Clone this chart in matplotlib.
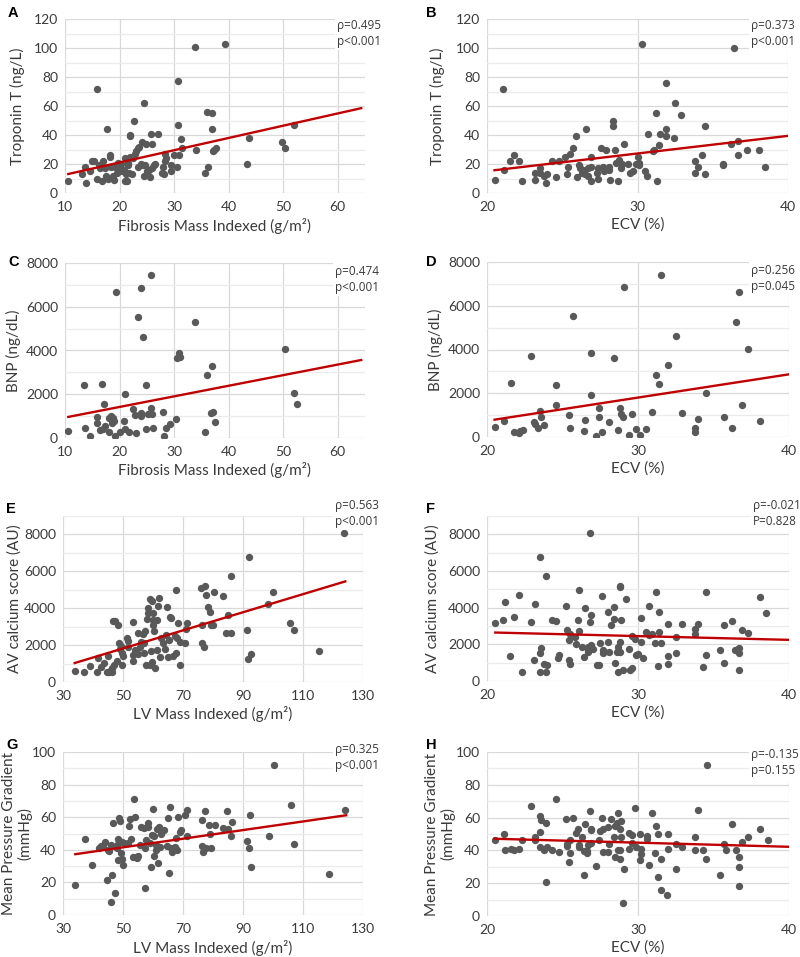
import matplotlib
matplotlib.use("Agg")
import matplotlib.pyplot as plt
import numpy as np

plt.rcParams['font.family'] = ['Lato', 'DejaVu Sans']

# A: Fibrosis mass indexed vs Troponin T
fib_a = [10.6, 13.2, 13.8, 13.7, 14.5, 14.9, 15.3, 15.8, 15.9, 16.2, 16.5, 16.8, 17.0, 17.3, 17.6,
         17.8, 17.7, 18.2, 18.3, 18.5, 18.8, 19.0, 19.2, 19.5, 19.8, 20.0, 20.3, 20.5, 20.8, 21.0,
         21.0, 21.2, 21.3, 21.5, 21.6, 21.7, 21.9, 22.0, 22.0, 22.2, 22.5, 22.6, 22.9, 23.1, 23.3,
         23.4, 23.6, 23.9, 24.1, 24.3, 24.4, 24.5, 24.7, 24.9, 25.1, 25.4, 25.6, 25.8, 26.0, 26.0,
         26.3, 26.5, 27.0, 27.7, 27.9, 28.1, 28.3, 28.4, 28.5, 29.4, 29.5, 29.9, 30.5, 30.7, 30.8,
         30.9, 31.3, 31.4, 33.9, 34.1, 35.7, 36.0, 36.2, 36.9, 37.0, 37.2, 37.4, 37.6, 39.3, 43.4,
         43.8, 49.7, 50.4, 52.0]
trop_a = [8, 13, 7, 18, 15, 22, 22, 10, 72, 19, 17, 8, 22, 17, 12,
          10, 44, 25, 26, 18, 12, 9, 18, 14, 21, 17, 20, 15, 16, 24,
          8, 13, 8, 19, 21, 14, 40, 39, 25, 13, 24, 50, 27, 29, 31,
          18, 32, 20, 35, 19, 12, 62, 19, 34, 15, 16, 11, 41, 17, 34,
          19, 20, 41, 14, 18, 13, 22, 27, 24, 19, 15, 26, 18, 47, 77,
          26, 37, 31, 101, 30, 14, 56, 18, 55, 44, 29, 30, 31, 103, 20,
          38, 35, 31, 47]
fit_a_x = [10.6, 64.3]
fit_a_y = [13.1, 58.5]

# B: ECV vs Troponin T
ecv_b = [20.55, 21.06, 21.15, 21.5, 21.8, 22.1, 22.3, 23.2, 23.2, 23.5, 23.5, 23.8, 23.9, 24.0,
         24.3, 24.6, 24.8, 25.2, 25.3, 25.4, 25.5, 25.7, 25.9, 26.0, 26.1, 26.2, 26.3, 26.4, 26.5,
         26.6, 26.7, 26.7, 26.9, 26.9, 26.9, 27.3, 27.4, 27.4, 27.6, 27.7, 27.8, 27.9, 28.1, 28.1,
         28.2, 28.4, 28.4, 28.5, 28.6, 28.7, 28.8, 28.9, 29.0, 29.1, 29.4, 29.5, 29.7, 29.9, 30.0,
         30.1, 30.1, 30.3, 30.5, 30.6, 30.7, 31.0, 31.2, 31.1, 31.3, 31.4, 31.5, 31.9, 31.9, 31.9,
         32.4, 32.5, 32.9, 33.8, 33.8, 34.0, 34.3, 34.5, 34.5, 35.7, 35.7, 36.2, 36.4, 36.7, 36.7,
         37.3, 38.1, 38.5]
trop_b = [9, 72, 16, 22, 26, 22, 8, 9, 14, 17, 14, 12, 7, 13,
          22, 11, 22, 25, 13, 18, 27, 31, 39, 11, 19, 17, 14, 16, 13,
          44, 17, 12, 18, 25, 8, 14, 17, 10, 31, 18, 15, 30, 18, 16,
          9, 50, 46, 30, 21, 8, 23, 17, 20, 34, 20, 14, 15, 20, 25,
          21, 19, 103, 15, 12, 41, 29, 55, 30, 8, 33, 41, 76, 39, 44,
          38, 62, 54, 22, 14, 18, 26, 13, 46, 20, 19, 34, 100, 36, 26,
          30, 30, 18]
fit_b_x = [20.5, 40]
fit_b_y = [15.7, 39.4]

# C: Fibrosis mass indexed vs BNP
fib_c = [10.6, 13.5, 13.7, 14.6, 15.9, 15.9, 16.5, 16.8, 16.9, 17.2, 17.4, 18.0, 18.0, 18.4, 18.6,
         18.8, 18.9, 19.1, 19.3, 20.1, 20.8, 21.0, 21.0, 21.8, 22.5, 22.8, 23.1, 23.4, 24.0, 24.0,
         24.0, 24.3, 24.8, 24.8, 25.3, 25.7, 25.8, 26.0, 26.2, 27.9, 28.1, 28.5, 29.3, 30.4, 30.5,
         30.9, 31.1, 33.8, 35.7, 36.0, 36.7, 37.0, 37.2, 37.5, 50.3, 51.9, 52.6]
bnp_c = [337, 2417, 459, 92, 948, 704, 367, 2479, 428, 1545, 535, 933, 275, 994, 688,
         918, 765, 92, 6655, 275, 780, 1989, 398, 275, 1331, 1071, 214, 5523, 1010, 1148,
         6870, 4620, 2433, 428, 1086, 1377, 7436, 1086, 459, 1193, 92, 459, 627, 872, 3672,
         3871, 3718, 5309, 260, 2861, 1148, 3290, 1178, 734, 4055, 2050, 1545]
fit_c_x = [10.6, 64.3]
fit_c_y = [964, 3565]

# D: ECV vs BNP
ecv_d = [20.5, 21.1, 21.6, 21.8, 22.1, 22.2, 22.4, 22.9, 23.1, 23.2, 23.4, 23.5, 23.6, 23.8, 24.6,
         24.6, 25.4, 25.5, 25.7, 26.4, 26.5, 26.9, 26.9, 27.2, 27.4, 27.4, 27.6, 28.1, 28.4, 28.7,
         28.8, 28.9, 29.0, 29.1, 29.4, 29.6, 29.9, 30.1, 30.5, 30.9, 31.2, 31.4, 31.5, 32.0, 32.5,
         32.9, 33.8, 33.8, 34.0, 34.5, 35.7, 36.2, 36.5, 36.7, 36.9, 37.3, 38.1]
bnp_d = [472, 716, 2469, 229, 198, 274, 335, 3688, 701, 610, 427, 1173, 930, 564, 2393,
         1478, 1021, 411, 5547, 274, 762, 1935, 3825, 30, 1341, 930, 213, 686, 3612, 335,
         1326, 1051, 930, 6843, 76, 1051, 351, 76, 366, 1128, 2850, 2408, 7407, 3277, 4602,
         1097, 411, 229, 823, 1996, 899, 427, 5258, 6629, 1478, 4008, 716]
fit_d_x = [20.5, 40]
fit_d_y = [792, 2865]

# E: LV mass indexed vs AV calcium score
lvm_e = [33.9, 37.0, 39.1, 41.4, 41.8, 42.6, 43.8, 44.7, 45.1, 45.4, 46.0, 46.2, 46.4, 46.7, 47.1,
         47.4, 48.0, 48.4, 48.7, 49.0, 49.4, 49.6, 49.8, 49.9, 51.2, 51.6, 51.8, 53.2, 53.3, 53.3,
         53.9, 54.4, 55.0, 55.0, 55.6, 56.1, 56.7, 56.9, 57.0, 57.4, 57.8, 57.9, 58.3, 58.4, 58.9,
         59.1, 59.4, 59.7, 59.8, 60.0, 60.1, 60.1, 60.3, 60.7, 61.2, 61.4, 61.6, 61.9, 62.2, 62.7,
         63.3, 63.9, 64.2, 64.7, 65.1, 65.4, 65.6, 66.1, 66.7, 67.3, 67.6, 67.7, 68.0, 68.3, 68.9,
         69.0, 70.6, 71.1, 71.4, 76.2, 76.2, 75.9, 77.0, 77.4, 77.6, 78.3, 79.0, 79.4, 80.4, 80.0,
         83.3, 84.4, 85.0, 86.0, 86.0, 91.2, 91.8, 91.9, 92.7, 98.3, 100.0, 105.8, 106.9, 115.3,
         123.8]
cac_e = [578, 524, 885, 524, 1282, 831, 1029, 524, 1409, 524, 632, 740, 524, 3323, 903,
         3323, 1120, 3088, 2131, 1770, 1950, 939, 1589, 1427, 2384, 2221, 1878, 1120, 3269, 1463,
         1716, 1607, 2673, 1499, 1878, 2149, 2583, 1589, 2131, 2745, 903, 3413, 4027, 3756, 939,
         4515, 1680, 1066, 4370, 3106, 3756, 3341, 2745, 758, 3341, 1752, 4099, 4569, 1355, 2384,
         2113, 1770, 2565, 4063, 1337, 2257, 3540, 3468, 1391, 2510, 5003, 1571, 2384, 3197, 939,
         2167, 2131, 2871, 3197, 3106, 2113, 5093, 1896, 5183, 4732, 4063, 3775, 3106, 4858, 3106,
         4660, 2637, 3630, 2637, 5743, 2799, 1246, 6773, 1535, 4226, 4894, 3215, 2817, 1698,
         8091]
fit_e_x = [33.9, 124.1]
fit_e_y = [1029, 5454]

# F: ECV vs AV calcium score
ecv_f = [20.55, 21.06, 21.2, 21.5, 21.8, 22.1, 22.3, 22.9, 23.1, 23.2, 23.5, 23.5, 23.6, 23.5, 23.8,
         23.9, 23.9, 24.0, 24.3, 24.6, 24.7, 24.8, 25.2, 25.3, 25.4, 25.4, 25.5, 25.5, 25.8, 25.9,
         26.0, 26.1, 26.1, 26.4, 26.3, 26.5, 26.7, 26.7, 26.7, 26.8, 26.8, 26.9, 26.9, 27.0, 27.3,
         27.4, 27.5, 27.6, 27.7, 27.7, 28.0, 28.0, 28.1, 28.2, 28.4, 28.4, 28.5, 28.6, 28.7, 28.7,
         28.8, 28.8, 28.8, 28.8, 28.9, 29.0, 29.2, 29.4, 29.5, 29.6, 29.6, 29.8, 29.9, 30.0, 30.2,
         30.2, 30.3, 30.5, 30.7, 30.7, 30.9, 31.1, 31.2, 31.3, 31.4, 31.4, 31.5, 32.0, 32.0, 32.0,
         32.5, 32.5, 32.9, 33.8, 33.8, 34.0, 34.3, 34.5, 34.5, 35.4, 35.7, 35.7, 36.2, 36.4, 36.6,
         36.7, 36.7, 36.7, 36.9, 37.3, 38.1, 38.5]
cac_f = [3168, 3349, 4326, 1339, 3511, 4706, 507, 3222, 1122, 4199, 1539, 6769, 1792, 507, 941,
         507, 5738, 851, 3349, 3258, 1249, 1430, 4073, 2787, 2263, 1140, 941, 2570, 2389, 2027,
         3330, 4978, 2751, 1303, 1846, 3964, 1846, 1575, 1720, 8091, 3204, 3620, 1937, 1756, 851,
         887, 2082, 4652, 1539, 1665, 2154, 3783, 1575, 3077, 3385, 4036, 996, 1557, 507, 1846,
         5177, 5104, 2136, 1557, 3330, 579, 4489, 1756, 579, 724, 2444, 2281, 1394, 1448, 3457,
         2118, 1231, 2697, 4091, 2516, 2588, 2082, 4851, 796, 3765, 2661, 2082, 3095, 1376, 941,
         1502, 2389, 3095, 2860, 2570, 3095, 778, 1430, 4869, 1665, 996, 3077, 3294, 1683, 1756,
         1502, 1810, 579, 2769, 2643, 4579, 3711]
fit_f_x = [20.55, 40]
fit_f_y = [2643, 2244]

# G: LV mass indexed vs mean pressure gradient
lvm_g = [34.1, 37.3, 39.6, 41.9, 42.6, 43.3, 44.0, 44.7, 45.1, 45.3, 45.9, 46.1, 46.2, 46.8, 47.2,
         47.9, 48.1, 48.3, 48.4, 48.7, 48.9, 49.4, 49.7, 49.8, 49.9, 50.4, 51.7, 52.0, 52.3, 52.6,
         53.2, 53.8, 53.9, 54.3, 54.8, 55.0, 55.6, 56.1, 56.9, 57.2, 57.4, 57.8, 58.2, 58.4, 59.0,
         59.4, 59.7, 60.0, 60.2, 60.4, 60.9, 61.1, 61.3, 61.6, 61.8, 62.0, 62.2, 62.7, 63.8, 64.8,
         65.0, 65.3, 65.8, 66.1, 66.3, 67.4, 67.7, 68.1, 68.4, 69.0, 69.4, 70.7, 71.4, 71.2, 76.2,
         76.4, 76.8, 77.3, 77.8, 78.6, 79.0, 79.4, 80.6, 83.4, 84.6, 85.0, 86.0, 86.3, 91.2, 92.0,
         92.2, 92.8, 98.7, 100.2, 105.9, 106.9, 118.8, 124.0]
mpg_g = [18.4, 46.5, 30.4, 41.0, 42.4, 42.4, 44.5, 21.2, 40.0, 39.0, 42.7, 8.2, 24.5, 56.3, 13.5,
         42.7, 40.8, 33.5, 46.5, 59.8, 57.8, 37.8, 34.1, 44.7, 30.8, 43.9, 43.9, 54.3, 58.6, 46.9,
         35.3, 71.4, 60.2, 35.7, 35.1, 36.3, 43.1, 54.1, 53.3, 16.3, 40.8, 46.1, 54.1, 56.3, 43.9,
         29.6, 49.0, 65.3, 48.4, 36.3, 43.1, 39.8, 52.9, 41.8, 31.6, 53.7, 41.8, 50.0, 52.0, 42.4,
         59.6, 25.5, 66.3, 40.8, 38.8, 41.6, 47.3, 39.8, 60.4, 51.0, 52.0, 61.2, 64.3, 48.4, 58.4,
         42.2, 38.6, 63.5, 41.4, 55.3, 50.0, 40.8, 55.3, 53.3, 63.7, 52.7, 48.4, 57.1, 45.1, 41.4,
         61.2, 29.6, 48.4, 92.2, 67.3, 43.5, 25.3, 64.3]
fit_g_x = [34.1, 124.4]
fit_g_y = [37.3, 61.2]

# H: ECV vs mean pressure gradient
ecv_h = [20.5, 21.1, 21.2, 21.6, 21.8, 22.1, 22.3, 22.9, 23.2, 23.2, 23.5, 23.5, 23.5, 23.6, 23.8,
         23.9, 23.9, 24.0, 24.3, 24.6, 24.8, 25.2, 25.3, 25.3, 25.4, 25.5, 25.5, 25.7, 25.9, 26.0,
         26.1, 26.1, 26.3, 26.4, 26.4, 26.5, 26.6, 26.6, 26.7, 26.8, 26.9, 26.9, 26.9, 27.2, 27.4,
         27.5, 27.6, 27.7, 27.7, 28.0, 28.0, 28.1, 28.2, 28.4, 28.5, 28.5, 28.6, 28.7, 28.7, 28.8,
         28.8, 28.9, 28.9, 28.8, 29.0, 29.1, 29.4, 29.4, 29.6, 29.6, 29.8, 29.9, 30.1, 30.1, 30.2,
         30.2, 30.6, 30.6, 30.7, 30.9, 31.1, 31.2, 31.3, 31.3, 31.5, 31.5, 31.9, 32.0, 32.0, 32.5,
         32.5, 32.9, 33.8, 33.8, 34.0, 34.3, 34.5, 34.6, 35.4, 35.7, 35.8, 36.2, 36.5, 36.7, 36.7,
         36.7, 36.9, 37.3, 38.1, 38.6]
mpg_h = [46.1, 50.2, 40.0, 41.0, 40.0, 41.0, 46.1, 67.1, 48.2, 46.1, 51.0, 60.8, 42.2, 58.6, 40.0,
         56.9, 20.8, 42.2, 40.0, 71.2, 39.2, 59.2, 42.7, 44.1, 32.9, 46.3, 38.2, 59.8, 50.4, 53.1,
         43.1, 42.2, 48.2, 39.6, 25.1, 56.1, 38.2, 39.4, 43.3, 64.3, 53.1, 52.4, 44.5, 30.2, 46.1,
         51.6, 60.0, 53.1, 39.0, 39.0, 54.1, 43.7, 59.0, 48.2, 55.1, 35.9, 56.9, 63.1, 40.0, 34.9,
         53.1, 58.2, 48.2, 40.2, 8.0, 28.8, 41.0, 50.8, 49.2, 44.7, 65.9, 42.0, 34.1, 50.2, 38.0,
         41.0, 48.8, 47.1, 31.0, 63.1, 38.2, 55.1, 23.9, 50.0, 34.9, 15.7, 13.1, 50.0, 41.0, 28.8,
         44.1, 42.0, 48.0, 40.0, 64.9, 40.0, 34.9, 92.2, 25.1, 44.1, 40.0, 56.1, 40.0, 35.9, 30.0,
         18.0, 45.1, 48.0, 53.1, 46.1]
fit_h_x = [20.5, 40]
fit_h_y = [47.1, 42.2]

W, H = 800, 957
fig = plt.figure(figsize=(8, 9.57), dpi=100)

GRID = '#d9d9d9'
MINOR = '#ebebeb'
DOT = '#595959'
RED = '#c00000'
TXT = '#3a3a3a'


def panel(letter, box, x, y, fx, fy, xticks, xmax, ylim, ystep, xlabel, ylabel, ylab_dx,
          stats, stat_xy, letter_y):
    left, top, right, bottom = box
    ax = fig.add_axes([left / W, 1 - bottom / H, (right - left) / W, (bottom - top) / H])
    ax.scatter(x, y, s=28, color=DOT, linewidths=0, zorder=3)
    ax.plot(fx, fy, color=RED, lw=1.7, zorder=4)
    ax.set_xlim(xticks[0], xmax)
    ax.set_xticks(xticks)
    ax.set_ylim(*ylim)
    ax.set_yticks(np.arange(0, min(ylim[1], 8000) + 1, ystep))
    ax.set_yticks(np.arange(ystep / 2, ylim[1] + 1, ystep), minor=True)
    ax.set_axisbelow(True)
    ax.grid(True, which='major', color=GRID, lw=0.9)
    ax.grid(True, which='minor', axis='y', color=MINOR, lw=0.9)
    for s in ax.spines.values():
        s.set_visible(False)
    ax.tick_params(which='both', length=0, labelsize=10, colors=TXT)
    ax.tick_params(axis='x', pad=6)
    ax.tick_params(axis='y', pad=5)
    ax.set_xlabel(xlabel, fontsize=11, color=TXT, labelpad=3)
    ax.set_ylabel(ylabel, fontsize=11, color=TXT, va='center', linespacing=1.15)
    ax.yaxis.set_label_coords(-ylab_dx / (right - left), 0.5)
    fig.text((left - 57) / W if left < 400 else (left - 61) / W, 1 - letter_y / H, letter,
             fontsize=10.5, fontweight='bold', family=['Liberation Sans', 'DejaVu Sans'], va='top')
    fig.text(stat_xy[0] / W, 1 - stat_xy[1] / H, stats, fontsize=8.5, color=TXT,
             va='top', linespacing=1.3, family=['Open Sans', 'DejaVu Sans'],
             bbox=dict(facecolor='white', edgecolor='none', pad=1.5))
    return ax


panel('A', (65, 19, 365, 193), fib_a, trop_a, fit_a_x, fit_a_y, [10, 20, 30, 40, 50, 60], 65,
      (0, 120), 20, 'Fibrosis Mass Indexed (g/m²)', 'Troponin T (ng/L)', 48,
      'ρ=0.495\np<0.001', (337, 19), 6)
panel('B', (487, 19, 788, 193), ecv_b, trop_b, fit_b_x, fit_b_y, [20, 30, 40], 40, (0, 120), 20,
      'ECV (%)', 'Troponin T (ng/L)', 50, 'ρ=0.373\np<0.001', (751, 19), 6)
panel('C', (65, 263, 365, 438), fib_c, bnp_c, fit_c_x, fit_c_y, [10, 20, 30, 40, 50, 60], 65,
      (0, 8000), 2000, 'Fibrosis Mass Indexed (g/m²)', 'BNP (ng/dL)', 52,
      'ρ=0.474\np<0.001', (335, 265), 255)
panel('D', (487, 262, 789, 437), ecv_d, bnp_d, fit_d_x, fit_d_y, [20, 30, 40], 40, (0, 8000), 2000,
      'ECV (%)', 'BNP (ng/dL)', 52, 'ρ=0.256\np=0.045', (751, 264), 255)
panel('E', (63, 516, 363, 682), lvm_e, cac_e, fit_e_x, fit_e_y, [30, 50, 70, 90, 110, 130], 130,
      (0, 9000), 2000, 'LV Mass Indexed (g/m²)', 'AV calcium score (AU)', 48,
      'ρ=0.563\np<0.001', (335, 499), 502)
panel('F', (487, 516, 789, 681), ecv_f, cac_f, fit_f_x, fit_f_y, [20, 30, 40], 40, (0, 9000), 2000,
      'ECV (%)', 'AV calcium score (AU)', 54, 'ρ=-0.021\nP=0.828', (753, 499), 502)
panel('G', (63, 752, 363, 915), lvm_g, mpg_g, fit_g_x, fit_g_y, [30, 50, 70, 90, 110, 130], 130,
      (0, 100), 20, 'LV Mass Indexed (g/m²)', 'Mean Pressure Gradient\n(mmHg)', 46,
      'ρ=0.325\np<0.001', (335, 743), 738)
panel('H', (487, 752, 789, 916), ecv_h, mpg_h, fit_h_x, fit_h_y, [20, 30, 40], 40, (0, 100), 20,
      'ECV (%)', 'Mean Pressure Gradient\n(mmHg)', 47, 'ρ=-0.135\np=0.155', (751, 748), 738)

fig.savefig('out.png', dpi=100)
